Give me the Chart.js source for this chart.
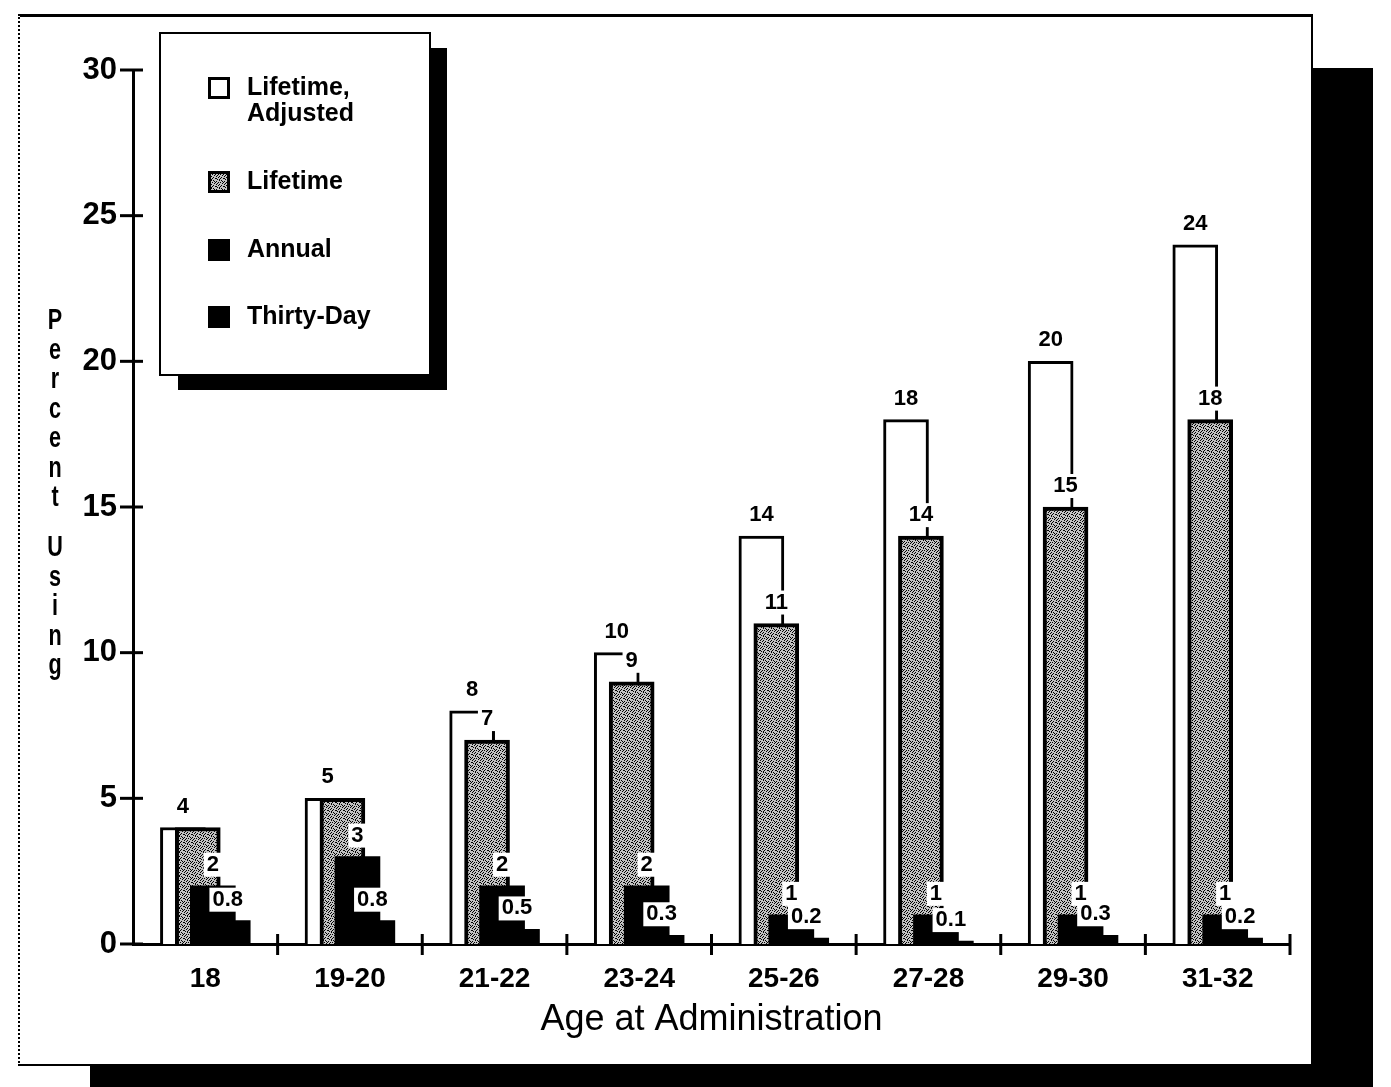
<!DOCTYPE html>
<html><head><meta charset="utf-8">
<script src="https://cdn.jsdelivr.net/npm/chart.js@4.4.0/dist/chart.umd.min.js"></script>
<style>
html,body{margin:0;padding:0;background:#fff;width:1391px;height:1087px;overflow:hidden}
#shadow{position:absolute;left:90px;top:68px;width:1283px;height:1019px;background:#000}
#frame{position:absolute;box-sizing:border-box;left:18px;top:14px;width:1295px;height:1052px;background:#fff;border-top:3px solid #000;border-left:2px dotted #000;border-right:2px solid #000;border-bottom:2px solid #000}
canvas{position:absolute;left:0;top:0}
</style></head><body>
<div id="shadow"></div><div id="frame"></div>
<canvas id="c" width="1391" height="1087"></canvas>
<script>
// ---- data ----
const categories = ['18','19-20','21-22','23-24','25-26','27-28','29-30','31-32'];
const seriesNames = ['Lifetime, Adjusted','Lifetime','Annual','Thirty-Day'];
const lifetimeAdjusted = [4, 5, 8, 10, 14, 18, 20, 24];
const lifetime         = [4, 5, 7, 9, 11, 14, 15, 18];
const annual           = [2, 3, 2, 2, 1, 1, 1, 1];
const thirtyDay        = [0.8, 0.8, 0.5, 0.3, 0.2, 0.1, 0.3, 0.2];
const adjustedLabels   = ['4','5','8','10','14','18','20','24'];
const lifetimeLabels   = [null,null,'7','9','11','14','15','18'];
const annualLabels     = ['2','3','2','2','1','1','1','1'];
const thirtyDayLabels  = ['0.8','0.8','0.5','0.3','0.2','0.1','0.3','0.2'];
const yTicks = [0, 5, 10, 15, 20, 25, 30];
const yTitle = 'Percent Using';
const xTitle = 'Age at Administration';

// ---- style ----
const FONT = '"Liberation Sans", Arial, Helvetica, sans-serif';
const SLOT_SHIFT = [-0.155, -0.052, 0.052, 0.155];  // bar offset within a category (category units)
const BAR_PX = 45;

const ctx0 = document.getElementById('c').getContext('2d');
function makeStipple(){
  const rows = ['#..#....','..#..#..','#...#..#','.#.#....','...#.#..','#.....#.','..#.#..#','.#....#.'];
  const c = document.createElement('canvas'); c.width = 8; c.height = 8;
  const g = c.getContext('2d');
  g.fillStyle = '#c2c2c2'; g.fillRect(0,0,8,8);
  g.fillStyle = '#000';
  rows.forEach((r,yy)=>[...r].forEach((ch,xx)=>{ if(ch==='#') g.fillRect(xx,yy,1,1); }));
  return ctx0.createPattern(c,'repeat');
}
const stipple = makeStipple();

const toPts = (arr, k) => arr.map((v,i)=>({x: i + SLOT_SHIFT[k], y: v}));
const allLabels = [adjustedLabels, lifetimeLabels, annualLabels, thirtyDayLabels];

const valueLabelPlugin = {
  id: 'valueLabels',
  afterDatasetsDraw(chart){
    const ctx = chart.ctx;
    ctx.save();
    ctx.font = 'bold 22px ' + FONT;
    ctx.textAlign = 'center'; ctx.textBaseline = 'middle';
    chart.data.datasets.forEach((ds, di) => {
      const meta = chart.getDatasetMeta(di);
      meta.data.forEach((bar, i) => {
        const txt = allLabels[di][i];
        if (!txt) return;
        const x = bar.x, y = bar.y - 21;
        const w = ctx.measureText(txt).width;
        if (di > 0) { ctx.fillStyle = '#fff'; ctx.fillRect(x - w/2 - 3, y - 12, w + 6, 24); }
        ctx.fillStyle = '#000';
        ctx.fillText(txt, x, y);
      });
    });
    ctx.restore();
  }
};

const axisMarksPlugin = {
  id: 'axisMarks',
  afterDraw(chart){
    const {ctx, chartArea} = chart;
    const xs = chart.scales.x, ys = chart.scales.y;
    ctx.save();
    ctx.strokeStyle = '#000'; ctx.lineWidth = 3;
    ys.ticks.forEach(t => {
      const py = ys.getPixelForValue(t.value);
      ctx.beginPath(); ctx.moveTo(chartArea.left - 13, py); ctx.lineTo(chartArea.left + 10, py); ctx.stroke();
    });
    for (let i = 0; i < categories.length; i++) {
      const px = xs.getPixelForValue(i + 0.5);
      ctx.beginPath(); ctx.moveTo(px, chartArea.bottom - 10); ctx.lineTo(px, chartArea.bottom + 11); ctx.stroke();
    }
    // stacked vertical y title (condensed, upright letters)
    ctx.fillStyle = '#000';
    ctx.font = 'bold 30px ' + FONT;
    ctx.textAlign = 'center'; ctx.textBaseline = 'middle';
    let k = 0;
    for (const ch of yTitle) {
      if (ch === ' ') { k += 0.7; continue; }
      ctx.save();
      ctx.translate(55, 321 + 29.5 * k);
      ctx.scale(0.72, 1);
      ctx.fillText(ch, 0, 0);
      ctx.restore();
      k++;
    }
    ctx.restore();
  }
};

const legendPlugin = {
  id: 'boxLegend',
  afterDraw(chart){
    const ctx = chart.ctx;
    ctx.save();
    ctx.fillStyle = '#000';
    ctx.fillRect(178, 48, 269, 342);
    ctx.fillStyle = '#fff';
    ctx.fillRect(160, 33, 270, 342);
    ctx.strokeStyle = '#000'; ctx.lineWidth = 2;
    ctx.strokeRect(160, 33, 270, 342);
    const rowsY = [88, 182, 250, 317];
    ctx.font = 'bold 25px ' + FONT;
    ctx.textAlign = 'left'; ctx.textBaseline = 'middle';
    chart.data.datasets.forEach((ds, i) => {
      const cy = rowsY[i];
      ctx.fillStyle = ds.backgroundColor;
      ctx.fillRect(208, cy - 11, 22, 22);
      ctx.strokeStyle = '#000'; ctx.lineWidth = 3;
      ctx.strokeRect(209.5, cy - 9.5, 19, 19);
      ctx.fillStyle = '#000';
      const lines = ds.label.includes(', ') ? [ds.label.split(', ')[0] + ',', ds.label.split(', ')[1]] : [ds.label];
      lines.forEach((ln, j) => ctx.fillText(ln, 247, cy + j * 26));
    });
    ctx.restore();
  }
};

new Chart(document.getElementById('c'), {
  type: 'bar',
  data: {
    datasets: [
      { label: seriesNames[0], data: toPts(lifetimeAdjusted, 0), backgroundColor: '#ffffff', borderColor: '#000', borderWidth: 3, order: 3 },
      { label: seriesNames[1], data: toPts(lifetime, 1), backgroundColor: stipple, borderColor: '#000', borderWidth: 4, order: 2 },
      { label: seriesNames[2], data: toPts(annual, 2), backgroundColor: '#000', borderWidth: 0, order: 1 },
      { label: seriesNames[3], data: toPts(thirtyDay, 3), backgroundColor: '#000', borderWidth: 0, order: 0 }
    ]
  },
  options: {
    responsive: false,
    animation: false,
    devicePixelRatio: 1,
    layout: { padding: { left: 0, top: 70, right: 101, bottom: 0 } },
    datasets: { bar: { grouped: false, barThickness: BAR_PX } },
    plugins: { legend: { display: false }, tooltip: { enabled: false }, title: { display: false } },
    scales: {
      x: {
        type: 'linear', min: -0.5, max: categories.length - 0.5, offset: false,
        grid: { display: false, drawTicks: false, offset: false },
        border: { display: true, color: '#000', width: 3 },
        afterBuildTicks: s => { s.ticks = categories.map((c, i) => ({ value: i })); },
        ticks: { callback: v => categories[v], color: '#000', padding: 18, maxRotation: 0, autoSkip: false,
                 font: { family: FONT, size: 28, weight: 'bold' } },
        title: { display: true, text: xTitle, color: '#000', font: { family: FONT, size: 36, weight: 'normal' },
                 padding: { top: 4, bottom: 45 } },
        afterFit: s => { s.height = 143; }
      },
      y: {
        min: 0, max: 30,
        afterBuildTicks: s => { s.ticks = yTicks.map(v => ({ value: v })); },
        grid: { display: false, drawTicks: false },
        border: { display: true, color: '#000', width: 3 },
        ticks: { color: '#000', padding: 16, font: { family: FONT, size: 31, weight: 'bold' } },
        afterFit: s => { s.width = 133; }
      }
    }
  },
  plugins: [valueLabelPlugin, axisMarksPlugin, legendPlugin]
});
</script>
</body></html>
